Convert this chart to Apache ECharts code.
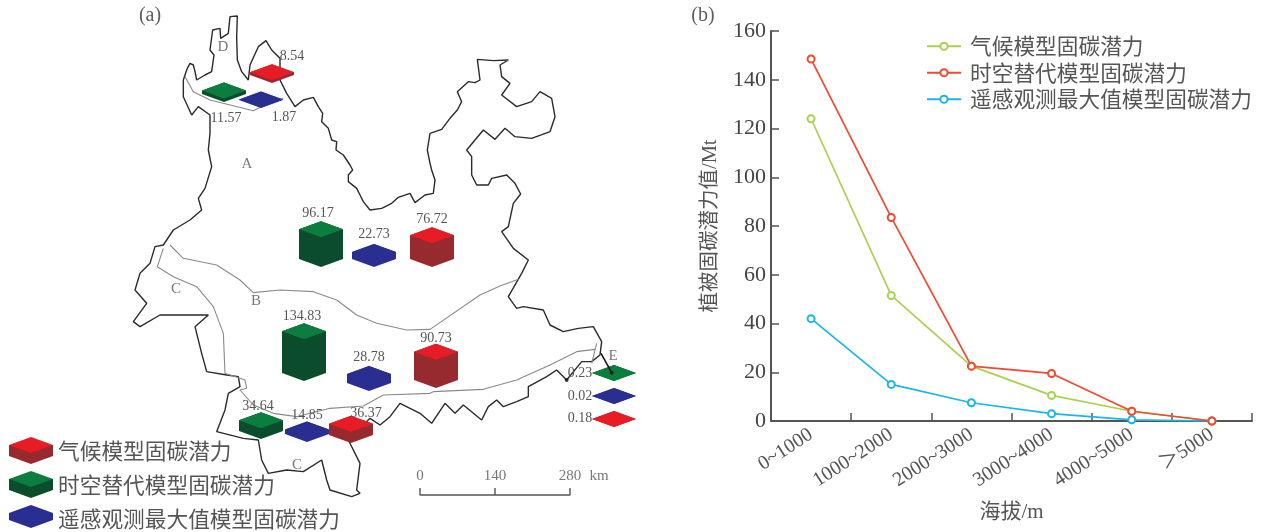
<!DOCTYPE html>
<html><head><meta charset="utf-8">
<style>html,body{margin:0;padding:0;background:#fff}#c{width:1262px;height:532px}</style>
<script src="https://cdn.jsdelivr.net/npm/echarts@6/dist/echarts.min.js"></script>
</head><body><div id="c"></div>
<script>
// ---- panel (b) data
const altitudeBands = ['0~1000','1000~2000','2000~3000','3000~4000','4000~5000','＞5000'];
const climateByAltitude = [124, 51.5, 22.5, 10.5, 4, 0];
const spatialByAltitude = [148.5, 83.5, 22.5, 19.5, 4, 0];
const remoteByAltitude = [42, 15, 7.5, 3, 0.5, 0];
// ---- panel (a) data, regions A B C D E
const climateByRegion = [76.72, 90.73, 36.37, 8.54, 0.18];
const spatialByRegion = [96.17, 134.83, 34.64, 11.57, 0.23];
const remoteByRegion = [22.73, 28.78, 14.85, 1.87, 0.02];
const nameClimate = '气候模型固碳潜力', nameSpatial = '时空替代模型固碳潜力', nameRemote = '遥感观测最大值模型固碳潜力';
// placement on the map: [x, bottom y, label x, label y]
const climatePlace = [[432,267,432,219],[436,388,436,338],[351,443,366,413],[272,83,292,56],[614,427,580,418]];
const spatialPlace = [[321,267,318,213],[304,381,302,316],[261,439,258,406],[224,102,226,118],[614,381,580,373]];
const remotePlace  = [[374,267,374,234],[369,391,369,357],[307,442,307,415],[261,108,284,117],[614,404,580,396]];
const regionLetters = [['A',247,164],['D',223,47],['B',256,301],['C',176,289],['C',297,465],['E',613,356]];
const panelTags = [['(a)',150,16],['(b)',703,16]];
const scaleBarTicks = [[420,'0'],[495,'140'],[570,'280']];

const frame = (ox, oy, pts) => pts.map(p => [ox + p[0] / 3, oy + p[1] / 3]);
const outlineNorth = frame(130,0,[[160,240],[165,225],[172,205],[180,190],[190,195],[195,215],[200,240],[225,225],[245,215],[252,165],[240,150],[248,90],[270,85],[272,115],[295,100],[300,50],[322,48],[320,110],[322,180],[335,215],[355,240],[360,195],[385,140],[408,122],[425,150],[450,175],[450,240],[470,280],[495,320],[520,300],[550,292],[565,320],[578,340],[575,365],[595,385],[605,420],[620,425],[618,450],[640,465],[660,495],[668,510],[655,525],[655,545],[680,565],[690,585],[700,605],[720,630],[755,625],[785,610],[805,592]]);
const outlineEast = frame(400,40,[[0,468],[30,460],[45,488],[75,465],[100,460],[105,420],[95,390],[90,370],[82,330],[90,280],[125,268],[150,235],[172,210],[185,185],[172,155],[205,125],[225,128],[240,120],[232,58],[280,62],[325,60],[300,75],[305,110],[330,130],[305,165],[350,200],[395,185],[420,155],[455,175],[465,230],[450,275],[395,295],[345,290],[315,265],[285,298],[250,270],[225,300],[200,330],[215,350],[215,405],[230,435],[265,435],[275,415],[320,405],[345,430],[362,462],[340,490],[325,560],[305,575],[340,625],[385,660],[365,700],[325,770],[350,805]]);
const outlineSouthEast = frame(400,300,[[370,20],[430,30],[450,75],[490,95],[535,85],[580,80],[605,125],[600,165],[575,185],[545,185],[500,240],[470,210],[440,230],[385,260],[385,290],[350,305],[310,320],[290,300],[265,320],[245,360],[190,315],[165,340],[135,310],[95,370],[60,340],[0,310]]);
const outlineSouthWest = frame(130,230,[[780,560],[750,585],[720,565],[655,630],[690,700],[680,780],[690,790],[665,800],[600,780],[590,750],[575,690],[520,725],[470,720],[415,730],[395,690],[385,630],[340,625],[260,605],[285,540],[295,490],[330,470],[325,440],[290,435],[230,425],[215,370],[195,290],[235,255],[150,255],[90,255],[30,290],[10,275],[50,220],[15,180],[30,130],[60,100],[75,50],[100,45],[130,0]]);
const outlineWest = frame(130,0,[[180,660],[215,630],[205,595],[225,565],[245,500],[235,450],[240,400],[240,345],[205,320],[185,345],[160,290],[160,240]]);
const outerBoundary = [].concat(outlineNorth, outlineEast, outlineSouthEast, outlineSouthWest, outlineWest);
const innerAB = [].concat(frame(130,230,[[120,45],[160,85],[260,105],[330,150],[370,188],[450,180],[550,185],[620,210],[680,255],[740,280],[830,300],[900,298]]), frame(400,40,[[240,765],[300,738],[355,718]]));
const innerBC = [].concat(frame(130,230,[[100,55],[82,110],[130,140],[200,170],[250,230],[280,310],[285,430],[345,450],[350,475],[330,480],[370,525],[430,550],[500,560],[600,535],[700,528],[760,495],[900,490]]), frame(400,300,[[100,275],[250,268],[350,240],[450,195],[530,155],[585,148]]));
const innerE = frame(400,300,[[590,130],[575,190]]);
const innerD = frame(130,0,[[165,230],[190,275],[240,300],[370,332],[385,325],[460,295]]);
const arrowE = frame(400,300,[[603,160],[635,218]]);
const blackTips = frame(400,300,[[635,218],[500,240]]);
const scaleBar = [[420,488],[420,495],[495,495],[495,488],[495,495],[570,495],[570,488]];

const SERIF = '"Liberation Serif","Noto Sans CJK SC",serif';
const CJK = '"Noto Sans CJK SC",sans-serif';
const TEXT = '#555';
const swatch = (top, side, bottom) => 'image://data:image/svg+xml,' + encodeURIComponent(
  `<svg xmlns="http://www.w3.org/2000/svg" width="44" height="27" viewBox="0 0 44 27"><path d="M0 8 V${bottom-8} L22 ${bottom} L44 ${bottom-8} V8 Z" fill="${side}"/><path d="M0 8 L22 0 L44 8 L22 16 Z" fill="${top}"/></svg>`);

function cubeSeries(name, values, place, top, side) {
  return {
    type: 'custom', name, xAxisIndex: 0, yAxisIndex: 0, silent: true, z: 5, clip: false,
    data: values.map((v, i) => [place[i][0], place[i][1], v, place[i][2], place[i][3]]),
    encode: { x: 0, y: 1 },
    renderItem(params, api) {
      const p = api.coord([api.value(0), api.value(1)]);
      const v = api.value(2);
      const depth = api.size([0, v * 0.31])[1], hw = 22, hh = 8;
      const x = p[0], b = p[1];
      const t = b - depth - 2 * hh;  // top tip
      const l = api.coord([api.value(3), api.value(4)]);
      return { type: 'group', children: [
        { type: 'polygon', shape: { points: [[x-hw,t+hh],[x,t],[x+hw,t+hh],[x+hw,b-hh],[x,b],[x-hw,b-hh]] }, style: { fill: side } },
        { type: 'polygon', shape: { points: [[x-hw,t+hh],[x,t],[x+hw,t+hh],[x,t+2*hh]] }, style: { fill: top } },
        { type: 'text', x: l[0], y: l[1], style: { text: String(v), fill: TEXT, font: '14px ' + SERIF, align: 'center', verticalAlign: 'middle' } }
      ] };
    }
  };
}
const pathSeries = (name, data, color, width, z) => ({
  type: 'line', name, xAxisIndex: 0, yAxisIndex: 0, data, showSymbol: false, silent: true, z: z || 2,
  lineStyle: { color, width }, clip: false
});
const textSeries = (name, data, fontSize, family, color) => ({
  type: 'scatter', name, xAxisIndex: 0, yAxisIndex: 0, symbolSize: 0, silent: true, z: 6,
  data: data.map(d => ({ value: [d[1], d[2]], name: d[0] })),
  label: { show: true, position: 'inside', formatter: '{b}', color: color || TEXT, fontSize, fontFamily: family }
});
const lineSeries = (name, data, color) => ({
  type: 'line', name, xAxisIndex: 1, yAxisIndex: 1, data, symbol: 'emptyCircle', symbolSize: 7, showSymbol: true,
  lineStyle: { color, width: 1.7 }, itemStyle: { color, borderColor: color, borderWidth: 1.6 }, z: 4, clip: false
});

const chart = echarts.init(document.getElementById('c'), null, { renderer: 'canvas' });
chart.setOption({
  animation: false,
  backgroundColor: '#fff',
  grid: [
    { left: 0, top: 0, width: 1262, height: 532 },
    { left: 771, top: 31, width: 481, height: 390 }
  ],
  xAxis: [
    { gridIndex: 0, type: 'value', min: 0, max: 1262, show: false },
    { gridIndex: 1, type: 'category', data: altitudeBands, boundaryGap: true,
      name: '海拔/m', nameLocation: 'middle', nameGap: 81,
      nameTextStyle: { fontSize: 21, color: TEXT, fontFamily: SERIF },
      axisLine: { onZero: false, lineStyle: { color: '#555', width: 2 } },
      axisTick: { show: true, inside: true, length: 8, lineStyle: { color: '#555', width: 1.5 } },
      axisLabel: { rotate: 33, interval: 0, fontSize: 20, color: TEXT, fontFamily: SERIF, margin: 12 },
      splitLine: { show: false } }
  ],
  yAxis: [
    { gridIndex: 0, type: 'value', min: 0, max: 532, inverse: true, show: false },
    { gridIndex: 1, type: 'value', min: 0, max: 160, interval: 20,
      name: '植被固碳潜力值/Mt', nameLocation: 'middle', nameGap: 50, nameRotate: 90,
      nameTextStyle: { fontSize: 20.5, color: TEXT, fontFamily: SERIF },
      axisLine: { show: true, lineStyle: { color: '#555', width: 2 } },
      axisTick: { show: true, inside: true, length: 8, lineStyle: { color: '#555', width: 1.5 } },
      axisLabel: { fontSize: 22, color: '#444', fontFamily: SERIF, margin: 5 },
      splitLine: { show: false } }
  ],
  legend: [
    { left: 926, top: 33, orient: 'vertical', padding: 0, itemGap: 0, itemWidth: 34, itemHeight: 9, selectedMode: false,
      data: [nameClimate, nameSpatial, nameRemote],
      textStyle: { fontSize: 21.7, lineHeight: 26.5, color: TEXT, fontFamily: CJK, padding: [0,0,0,4] } },
    { left: 9, top: 437, orient: 'vertical', padding: 0, itemGap: 7, itemWidth: 44, itemHeight: 27, selectedMode: false,
      data: [
        { name: nameClimate, icon: swatch('#e81c24', '#972a2e', 27) },
        { name: nameSpatial, icon: swatch('#0b7d3e', '#0b4c2d', 27) },
        { name: nameRemote, icon: swatch('#2b2e91', '#2b2e91', 23) }
      ],
      textStyle: { fontSize: 21.7, color: TEXT, fontFamily: CJK } }
  ],
  series: [
    lineSeries(nameClimate, climateByAltitude, '#a9d14f'),
    lineSeries(nameRemote, remoteByAltitude, '#19b5ec'),
    lineSeries(nameSpatial, spatialByAltitude, '#f0492f'),
    pathSeries('boundary', outerBoundary, '#2a2a2a', 1.4),
    pathSeries('inner AB', innerAB, '#8a8a8a', 1.1),
    pathSeries('inner BC', innerBC, '#8a8a8a', 1.1),
    pathSeries('inner E', innerE, '#8a8a8a', 1.1),
    pathSeries('inner D', innerD, '#8a8a8a', 1.1),
    pathSeries('arrow E', arrowE, '#111', 1.5, 6),
    pathSeries('scale bar', scaleBar, '#555', 1.4),
    { type: 'scatter', name: 'black tips', xAxisIndex: 0, yAxisIndex: 0, data: blackTips, symbolSize: 4, silent: true, z: 6, itemStyle: { color: '#111' } },
    cubeSeries(nameClimate, climateByRegion, climatePlace, '#e81c24', '#972a2e'),
    cubeSeries(nameSpatial, spatialByRegion, spatialPlace, '#0b7d3e', '#0b4c2d'),
    cubeSeries(nameRemote, remoteByRegion, remotePlace, '#2b2e91', '#2b2e91'),
    textSeries('region letters', regionLetters, 15, SERIF),
    textSeries('panel tags', panelTags, 20, SERIF, '#333'),
    textSeries('scale labels', scaleBarTicks.map(t => [t[1], t[0], 476]).concat([['km',599,476]]), 15, SERIF)
  ]
});
</script></body></html>
